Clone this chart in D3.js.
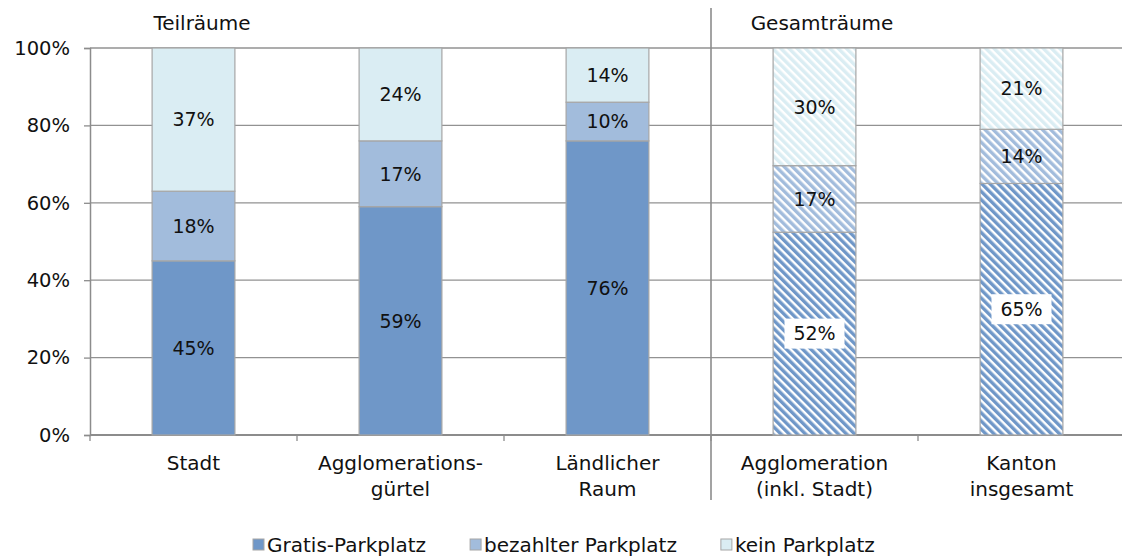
<!DOCTYPE html>
<html>
<head>
<meta charset="utf-8">
<script src="https://cdn.jsdelivr.net/npm/d3@7"></script>
<style>
  body { margin: 0; background: #fff; }
  svg { display: block; font-family: "DejaVu Sans", Verdana, sans-serif; }
</style>
</head>
<body>
<svg id="chart" width="1122" height="560"></svg>
<script>
// Parking situation by spatial type (shares in %)
const categories = [
  ["Stadt"],
  ["Agglomerations-", "gürtel"],
  ["Ländlicher", "Raum"],
  ["Agglomeration", "(inkl. Stadt)"],
  ["Kanton", "insgesamt"]
];
const seriesNames = ["Gratis-Parkplatz", "bezahlter Parkplatz", "kein Parkplatz"];
const gratis    = [45, 59, 76, 52.4, 65];
const bezahlt   = [18, 17, 10, 17.2, 14];
const kein      = [37, 24, 14, 30.4, 21];
const hatched   = [false, false, false, true, true];
const yTicks    = [0, 20, 40, 60, 80, 100];
const groups    = ["Teilräume", "Gesamträume"];

const colors = ["#6f97c8", "#a2bcdc", "#daedf3"];
const FONT = "DejaVu Sans, Verdana, sans-serif";

const svg = d3.select("#chart");
const margin = { left: 90, top: 48, bottom: 125 };
const plotRight = 1125;
const H = 560 - margin.bottom;

const x = d3.scaleBand().domain(d3.range(categories.length)).range([margin.left, plotRight]).paddingInner(0.6).paddingOuter(0.3);
const xOuter = d3.scaleBand().domain(d3.range(categories.length)).range([margin.left, plotRight]);
const y = d3.scaleLinear().domain([0, 100]).range([H, margin.top]);

// hatch patterns for aggregated areas
const defs = svg.append("defs");
colors.forEach((c, i) => {
  const p = defs.append("pattern")
    .attr("id", "hatch" + i)
    .attr("patternUnits", "userSpaceOnUse")
    .attr("width", 5.8).attr("height", 5.8)
    .attr("patternTransform", "rotate(-45)");
  p.append("rect").attr("width", 5.8).attr("height", 5.8).attr("fill", "#fff");
  p.append("rect").attr("width", 3.4).attr("height", 5.8).attr("fill", c);
});

// gridlines
svg.append("g").selectAll("line").data(yTicks).join("line")
  .attr("x1", margin.left).attr("x2", plotRight)
  .attr("y1", d => y(d)).attr("y2", d => y(d))
  .attr("stroke", "#929292").attr("stroke-width", 1.3);

// y axis
const yAxis = d3.axisLeft(y).tickValues(yTicks).tickFormat(d => d + "%").tickSize(6).tickPadding(14);
const ya = svg.append("g").attr("transform", `translate(${margin.left},0)`).call(yAxis);
ya.select(".domain").attr("stroke", "#8c8c8c").attr("stroke-width", 1.5);
ya.selectAll(".tick line").attr("stroke", "#8c8c8c").attr("stroke-width", 1.3);
ya.selectAll(".tick text").attr("font-size", 19.5).attr("fill", "#111").attr("font-family", FONT);

// x axis ticks at category boundaries
const bounds = d3.range(categories.length + 1).map(i => margin.left + i * xOuter.step());
svg.append("g").selectAll("line").data(bounds).join("line")
  .attr("x1", d => d).attr("x2", d => d)
  .attr("y1", H).attr("y2", H + 6)
  .attr("stroke", "#8c8c8c").attr("stroke-width", 1.3);
svg.append("line").attr("x1", margin.left).attr("x2", plotRight).attr("y1", H).attr("y2", H)
  .attr("stroke", "#8c8c8c").attr("stroke-width", 1.8);

// stacked bars
const stackData = categories.map((c, i) => {
  let acc = 0;
  return [gratis[i], bezahlt[i], kein[i]].map((v, s) => {
    const seg = { i, s, v, y0: acc, y1: acc + v, hatched: hatched[i] };
    acc += v;
    return seg;
  });
}).flat();

svg.append("g").selectAll("rect").data(stackData).join("rect")
  .attr("x", d => x(d.i))
  .attr("width", x.bandwidth())
  .attr("y", d => y(d.y1))
  .attr("height", d => y(d.y0) - y(d.y1))
  .attr("fill", d => d.hatched ? `url(#hatch${d.s})` : colors[d.s])
  .attr("stroke", "#a6a6a6").attr("stroke-width", 1.2);

// value labels
const lbl = svg.append("g");
stackData.forEach(d => {
  const cx = x(d.i) + x.bandwidth() / 2;
  const cy = y((d.y0 + d.y1) / 2);
  if (d.hatched && d.s === 0) {
    lbl.append("rect").attr("x", cx - 30).attr("y", cy - 15).attr("width", 60).attr("height", 30).attr("fill", "#fff");
  }
  lbl.append("text").attr("x", cx).attr("y", cy).attr("dy", "0.36em")
    .attr("text-anchor", "middle").attr("font-size", 19).attr("fill", "#111").text(Math.round(d.v) + "%");
});

// category labels
categories.forEach((lines, i) => {
  const cx = xOuter(i) + xOuter.bandwidth() / 2;
  const t = svg.append("text").attr("text-anchor", "middle").attr("font-size", 20).attr("fill", "#111")
    .attr("x", cx).attr("y", 470);
  lines.forEach((l, k) => t.append("tspan").attr("x", cx).attr("dy", k === 0 ? 0 : 26).text(l));
});

// group separator and headers
const sepX = bounds[3];
svg.append("line").attr("x1", sepX).attr("x2", sepX).attr("y1", 8).attr("y2", 500)
  .attr("stroke", "#8c8c8c").attr("stroke-width", 1.6);
svg.append("text").attr("x", 202).attr("y", 30).attr("text-anchor", "middle").attr("font-size", 20).attr("fill", "#111").text(groups[0]);
svg.append("text").attr("x", 822).attr("y", 30).attr("text-anchor", "middle").attr("font-size", 20).attr("fill", "#111").text(groups[1]);

// legend: entries laid out left to right with equal gaps
let lx = 253;
seriesNames.forEach((n, i) => {
  const g = svg.append("g").attr("transform", `translate(${lx},0)`);
  g.append("rect").attr("x", 0).attr("y", 539).attr("width", 11).attr("height", 11)
    .attr("fill", colors[i]).attr("stroke", "#a6a6a6").attr("stroke-width", 1);
  const t = g.append("text").attr("x", 14).attr("y", 552).attr("font-size", 20).attr("fill", "#111").text(n);
  lx += 14 + t.node().getComputedTextLength() + 44;
});
</script>
</body>
</html>
